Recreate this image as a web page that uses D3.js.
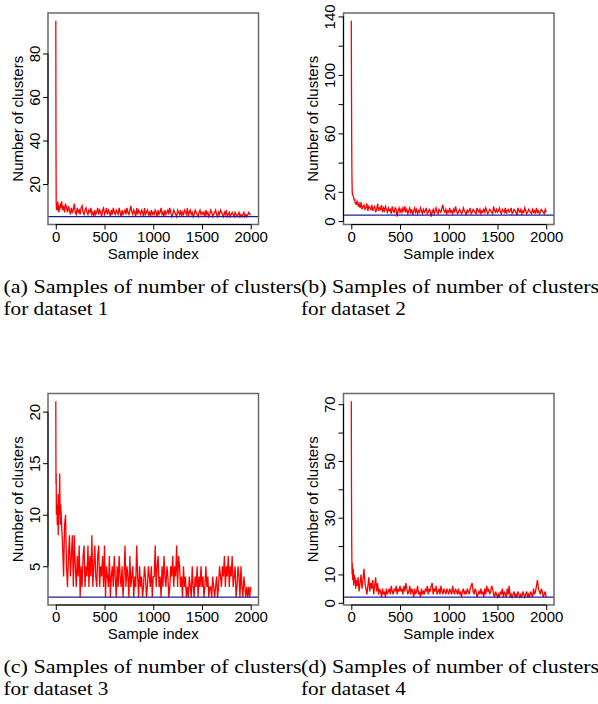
<!DOCTYPE html>
<html><head><meta charset="utf-8">
<script src="https://cdn.jsdelivr.net/npm/d3@7"></script>
<style>body{margin:0;background:#fff}</style>
</head><body>
<svg id="chart" width="598" height="704"></svg>
<script>
const sampleIdx = [0,2,4,6,8,10,15,20,25,30,35,40,45,50].concat(d3.range(60, 2001, 10));

const samplesA = [95,40,12,9,8,11,8,12,9,7,10,8,11,9,
 12,8,10,7,11,9,7,10,8,6,9,7,8,11,7,
 6,9,7,8,6,9,10,7,6,8,9,7,6,8,7,9,6,7,5,8,6,7,9,6,8,7,5,8,9,6,
 7,9,6,8,7,5,8,6,9,7,6,8,7,6,9,7,5,8,6,7,8,6,9,7,6,8,10,7,6,8,7,5,9,6,8,7,6,8,7,5,9,6,7,8,6,7,5,8,6,7,
 6,8,7,5,8,6,7,9,6,7,5,8,6,7,8,6,9,7,5,6,8,7,6,5,8,7,6,8,5,7,6,8,7,6,9,5,7,8,6,7,5,6,8,7,6,5,7,8,6,7,
 6,7,5,8,6,7,5,6,8,7,5,6,7,8,6,5,7,6,8,7,6,5,7,6,8,5,6,7,5,6,7,6,5,7,6,5,6,7,5,6,5,6,7,5,6,5,6,7,6,6];

const samplesB = [137,90,55,35,25,19,18,17,16,14,15,12,13,11,
 14,10,12,9,13,8,10,11,8,9,12,7,10,9,8,
 11,7,9,10,6,8,12,7,9,8,11,6,9,7,10,8,6,9,7,8,5,10,7,6,9,8,3,7,9,6,
 8,6,9,7,10,6,8,5,7,9,6,8,4,7,9,6,8,5,7,6,9,7,5,8,6,7,9,5,6,8,7,3,6,8,5,7,9,6,5,8,7,6,9,11,7,6,8,5,7,6,
 9,6,7,5,8,6,10,7,5,6,8,7,5,6,9,7,6,4,8,6,7,9,5,6,8,7,6,5,9,7,6,8,5,7,6,8,6,9,7,5,6,8,7,6,5,10,7,6,8,6,
 7,9,6,5,8,7,6,9,5,7,8,6,7,9,5,6,8,7,6,4,9,7,6,8,5,7,6,9,7,5,6,8,7,6,5,8,6,7,5,9,6,7,5,6,8,7,6,5,8,6];

const samplesC = [21,13,14,10,11,12,9,11,8,12,10,14,9,11,
 9,7,4,9,10,5,3,6,8,4,6,8,3,8,5,
 3,6,4,7,2,5,3,6,7,3,5,4,7,3,6,4,8,3,5,7,4,3,6,7,3,5,4,6,3,7,
 2,5,4,3,6,2,4,5,3,6,4,2,5,3,6,4,3,5,2,4,7,3,5,4,2,6,3,4,5,2,4,3,7,4,2,5,3,4,2,3,5,4,2,3,5,4,3,5,2,4,
 4,7,3,5,6,3,4,2,5,3,6,4,3,5,4,2,3,5,4,6,3,5,4,7,3,6,5,3,4,2,5,3,4,2,3,2,4,3,2,5,3,2,4,3,5,2,4,3,5,3,
 4,2,3,5,3,4,2,3,3,2,4,3,2,3,4,2,3,5,4,3,5,4,6,3,5,4,6,3,5,4,6,3,4,5,2,3,5,4,2,5,3,2,4,3,2,3,2,3,2,3];

const samplesD = [71,40,22,15,10,14,8,12,6,10,7,9,5,8,
 6,9,4,7,10,5,8,12,7,5,3,6,9,4,7,
 5,8,3,6,9,4,7,3,5,4,2,5,3,4,2,5,3,4,5,3,6,4,3,5,4,6,3,5,4,6,
 4,5,3,6,4,7,5,3,4,6,3,5,4,2,5,3,4,6,3,4,2,5,3,4,3,5,4,6,3,5,4,6,7,3,5,4,6,3,4,5,3,6,4,3,5,4,3,5,4,3,
 5,4,3,6,4,3,5,4,3,5,3,4,2,4,5,3,4,3,5,4,3,5,6,7,4,3,5,4,2,3,4,3,5,3,4,2,5,3,6,4,5,3,4,6,5,3,2,4,3,2,
 3,2,4,3,5,2,4,3,2,5,3,6,2,3,2,3,4,2,3,2,4,3,2,3,2,4,3,2,3,4,2,3,2,4,3,2,5,3,4,6,8,5,4,3,5,4,2,3,4,2];

const xTicks = [0, 500, 1000, 1500, 2000];
const trueClusters = [5, 4, 2, 2];
const yTicksA = [20, 40, 60, 80],            yLabelsA = [20, 40, 60, 80];
const yTicksB = [0, 20, 40, 60, 80, 100, 120, 140], yLabelsB = [0, 20, 60, 100, 140];
const yTicksC = [5, 10, 15, 20],             yLabelsC = [5, 10, 15, 20];
const yTicksD = [0, 10, 20, 30, 40, 50, 60, 70],   yLabelsD = [0, 10, 30, 50, 70];
const captions = [
  ["(a) Samples of number of clusters", "for dataset 1"],
  ["(b) Samples of number of clusters", "for dataset 2"],
  ["(c) Samples of number of clusters", "for dataset 3"],
  ["(d) Samples of number of clusters", "for dataset 4"]
];
const xTitle = "Sample index", yTitle = "Number of clusters";

const panels = [
  {values: samplesA, ref: trueClusters[0], ticks: yTicksA, labels: yLabelsA, cap: captions[0], ox: 0, oy: 0},
  {values: samplesB, ref: trueClusters[1], ticks: yTicksB, labels: yLabelsB, cap: captions[1], ox: 295.5, oy: 0},
  {values: samplesC, ref: trueClusters[2], ticks: yTicksC, labels: yLabelsC, cap: captions[2], ox: 0, oy: 380.5},
  {values: samplesD, ref: trueClusters[3], ticks: yTicksD, labels: yLabelsD, cap: captions[3], ox: 295.5, oy: 380.5}
];

const svg = d3.select("#chart");
const box = {l: 48, r: 258.5, t: 13, b: 224.5};
const sans = "'Liberation Sans', Arial, Helvetica, sans-serif";
const serif = "'Liberation Serif', 'Times New Roman', Times, serif";
const fs = 15;

panels.forEach(p => {
  const g = svg.append("g").attr("transform", `translate(${p.ox},${p.oy})`);
  const ext = d3.extent(p.values);
  const pad = (ext[1] - ext[0]) * 0.04;
  const y = d3.scaleLinear().domain([ext[0] - pad, ext[1] + pad]).range([box.b, box.t]);
  const xr = d3.extent(sampleIdx), xpad = (xr[1] - xr[0]) * 0.04;
  const x = d3.scaleLinear().domain([xr[0] - xpad, xr[1] + xpad]).range([box.l, box.r]);

  // trace
  g.append("path")
    .datum(sampleIdx.map((s, i) => [s, p.values[i]]))
    .attr("d", d3.line().x(d => x(d[0])).y(d => y(d[1])))
    .attr("fill", "none").attr("stroke", "#ff0000").attr("stroke-width", 1.3)
    .attr("stroke-linejoin", "miter");

  // true number line
  g.append("line").attr("x1", box.l).attr("x2", box.r)
    .attr("y1", y(p.ref)).attr("y2", y(p.ref))
    .attr("stroke", "#1c1c96").attr("stroke-width", 1.3);

  // box
  g.append("rect").attr("x", box.l).attr("y", box.t)
    .attr("width", box.r - box.l).attr("height", box.b - box.t)
    .attr("fill", "none").attr("stroke", "#6a6a6a").attr("stroke-width", 1.5);

  // x axis
  const xa = g.append("g").attr("transform", `translate(0,${box.b})`)
    .call(d3.axisBottom(x).tickValues(xTicks).tickSize(5).tickFormat(d3.format("d")));
  xa.select(".domain").remove();
  xa.append("line").attr("x1", x(xTicks[0])).attr("x2", x(xTicks[xTicks.length - 1]))
    .attr("stroke", "#000").attr("stroke-width", 1);
  xa.selectAll(".tick line").attr("stroke", "#000");
  xa.selectAll(".tick text").attr("y", 17).attr("dy", 0)
    .attr("font-family", sans).attr("font-size", fs).attr("fill", "#000");

  // y axis
  const ya = g.append("g").attr("transform", `translate(${box.l},0)`)
    .call(d3.axisLeft(y).tickValues(p.ticks).tickSize(5)
      .tickFormat(v => p.labels.includes(v) ? d3.format("d")(v) : ""));
  ya.select(".domain").remove();
  ya.append("line").attr("y1", y(p.ticks[0])).attr("y2", y(p.ticks[p.ticks.length - 1]))
    .attr("stroke", "#000").attr("stroke-width", 1);
  ya.selectAll(".tick line").attr("stroke", "#000");
  ya.selectAll(".tick text")
    .attr("x", 0).attr("y", 0).attr("dy", 0)
    .attr("transform", "translate(-8.5,0) rotate(-90)")
    .attr("text-anchor", "middle")
    .attr("font-family", sans).attr("font-size", fs).attr("fill", "#000");

  // axis titles
  g.append("text").attr("x", (box.l + box.r) / 2).attr("y", 258.5)
    .attr("text-anchor", "middle").attr("font-family", sans).attr("font-size", fs)
    .text(xTitle);
  g.append("text").attr("transform", `translate(22.7,${(box.t + box.b) / 2}) rotate(-90)`)
    .attr("text-anchor", "middle").attr("font-family", sans).attr("font-size", fs)
    .text(yTitle);

  // caption
  const capX = p.ox === 0 ? 3.5 : 301 - p.ox;
  const capW = [298, 105];
  p.cap.forEach((line, i) => {
    const t = g.append("text").attr("x", capX).attr("y", 292.5 + i * 22)
      .attr("font-family", serif).attr("font-size", 19.5).attr("fill", "#000")
      .text(line);
    t.attr("textLength", capW[i]).attr("lengthAdjust", "spacingAndGlyphs");
  });
});
</script>
</body></html>
